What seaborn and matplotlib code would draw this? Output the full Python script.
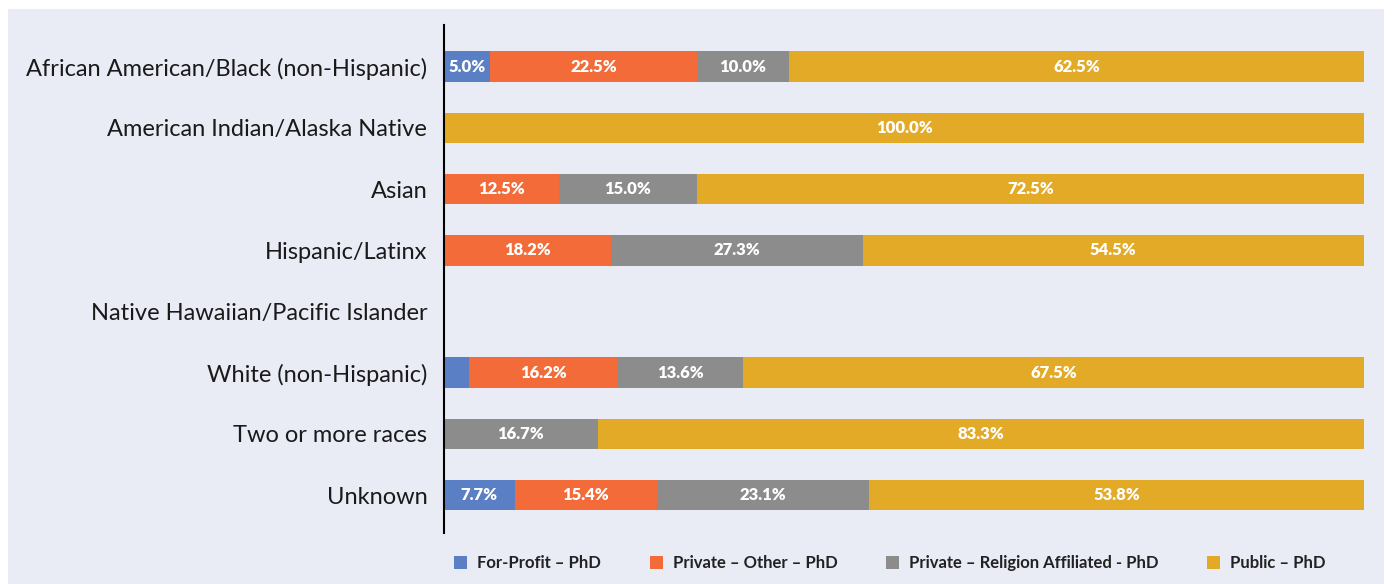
import numpy as np
import pandas as pd
import matplotlib.pyplot as plt
import seaborn as sns
from matplotlib.patches import Rectangle, Patch

# Dados
categorias = ['African American/Black (non-Hispanic)', 'American Indian/Alaska Native', 'Asian',
              'Hispanic/Latinx', 'Native Hawaiian/Pacific Islander', 'White (non-Hispanic)',
              'Two or more races', 'Unknown']
for_profit = [5.0, 0, 0, 0, 0, 2.7, 0, 7.7]
private_other = [22.5, 0, 12.5, 18.2, 0, 16.2, 0, 15.4]
private_religion = [10.0, 0, 15.0, 27.3, 0, 13.6, 16.7, 23.1]
public = [62.5, 100.0, 72.5, 54.5, 0, 67.5, 83.3, 53.8]

series = ['For-Profit – PhD', 'Private – Other – PhD', 'Private – Religion Affiliated - PhD', 'Public – PhD']
cores = ['#5B7FC4', '#F26B38', '#8C8C8C', '#E2AA26']
bg = '#E9EBF5'

df = pd.DataFrame({'cat': categorias, series[0]: for_profit, series[1]: private_other,
                   series[2]: private_religion, series[3]: public})
cum = df[series].cumsum(axis=1)

sns.set_style("white")
plt.rcParams['font.family'] = ['Lato', 'DejaVu Sans']

fig = plt.figure(figsize=(13.92, 5.84), dpi=100, facecolor='white')
fig.patches.append(Rectangle((8 / 1392, 0), 1376 / 1392, 1 - 9 / 584, transform=fig.transFigure,
                             facecolor=bg, edgecolor='none', zorder=-5))
ax = fig.add_axes([444 / 1392, 51 / 584, 920 / 1392, 508 / 584])
ax.set_facecolor(bg)

# barras empilhadas: desenha o acumulado do maior para o menor
for i in range(len(series) - 1, -1, -1):
    d = pd.DataFrame({'cat': categorias, 'val': cum[series[i]].values})
    sns.barplot(data=d, x='val', y='cat', order=categorias, orient='h', color=cores[i],
                saturation=1, width=0.5, edgecolor='none', linewidth=0, ax=ax, zorder=2)

# rótulos
for r, cat in enumerate(categorias):
    left = 0
    for s in series:
        v = df.loc[r, s]
        if v >= 4:
            ax.text(left + v / 2, r, f'{v:.1f}%', ha='center', va='center', color='white',
                    fontsize=12, fontweight='heavy', zorder=3)
        left += v

ax.set_xlim(0, 100)
ax.set_ylim(7.62, -0.68)
ax.set_xlabel('')
ax.set_ylabel('')
ax.set_xticks([])
ax.tick_params(axis='y', length=0, labelsize=17, pad=12, labelcolor='#1a1a1a')
for sp in ['top', 'right', 'bottom']:
    ax.spines[sp].set_visible(False)
ax.spines['left'].set_color('black')
ax.spines['left'].set_linewidth(1.5)

handles = [Patch(facecolor=c, edgecolor='none') for c in cores]
leg = fig.legend(handles, series, loc='center', bbox_to_anchor=(890 / 1392, 1 - 563 / 584), ncol=4,
                 frameon=False, handlelength=0.8, handleheight=0.8, handletextpad=0.6,
                 columnspacing=2.9, prop={'size': 12, 'weight': 'bold'})
for t in leg.get_texts():
    t.set_color('#222222')

fig.savefig('out.png', dpi=100, facecolor='white')
